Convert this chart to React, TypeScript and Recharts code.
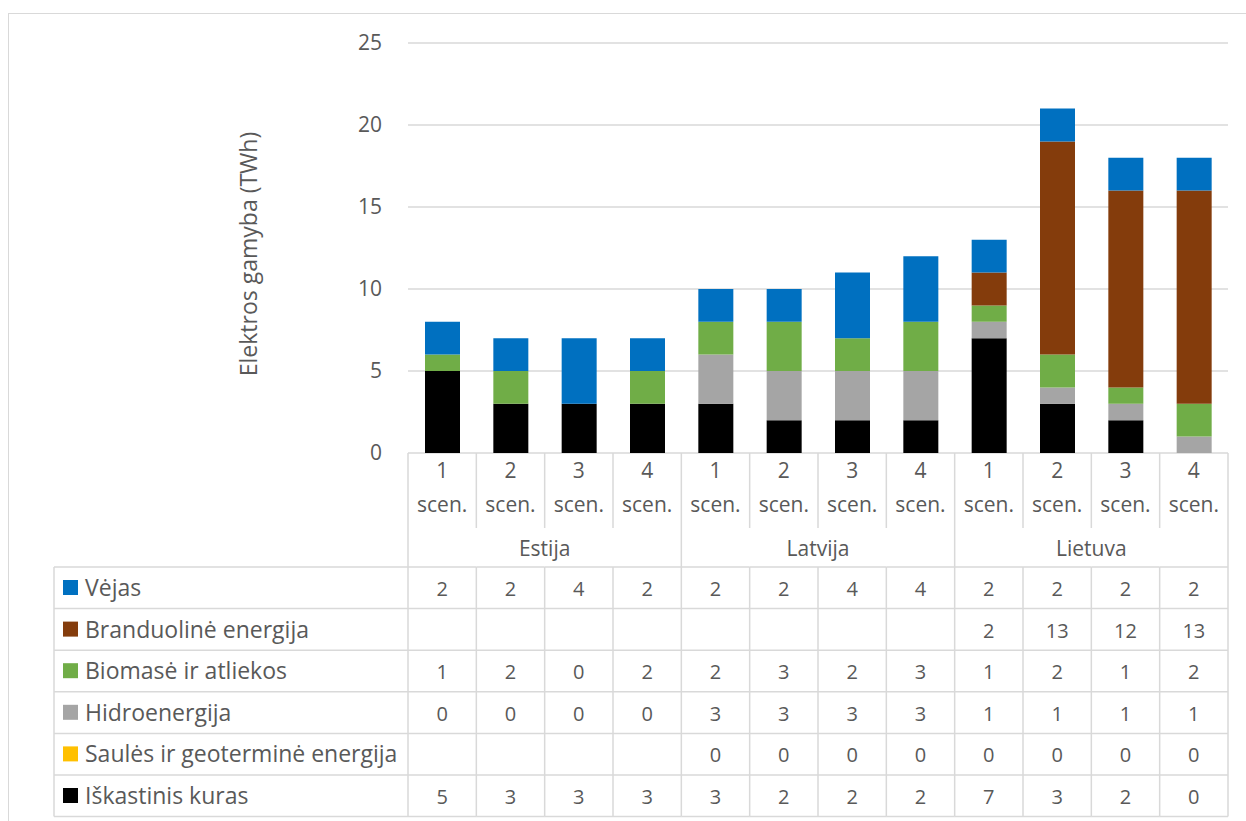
import React from 'react';
import { BarChart, Bar, XAxis, YAxis, CartesianGrid } from 'recharts';

const SCENARIOS = ['1', '2', '3', '4', '1', '2', '3', '4', '1', '2', '3', '4'];
const COUNTRIES = ['Estija', 'Latvija', 'Lietuva'];

// TWh by source, one value per scenario column (null = empty cell)
const FOSSIL = [5, 3, 3, 3, 3, 2, 2, 2, 7, 3, 2, 0];
const SOLAR = [null, null, null, null, 0, 0, 0, 0, 0, 0, 0, 0];
const HYDRO = [0, 0, 0, 0, 3, 3, 3, 3, 1, 1, 1, 1];
const BIOMASS = [1, 2, 0, 2, 2, 3, 2, 3, 1, 2, 1, 2];
const NUCLEAR = [null, null, null, null, null, null, null, null, 2, 13, 12, 13];
const WIND = [2, 2, 4, 2, 2, 2, 4, 4, 2, 2, 2, 2];

const Y_TICKS = [0, 5, 10, 15, 20, 25];

// stacking order, bottom first
const SERIES = [
  { key: 'fossil', name: 'Iškastinis kuras', color: '#000000', values: FOSSIL },
  { key: 'solar', name: 'Saulės ir geoterminė energija', color: '#FFC000', values: SOLAR },
  { key: 'hydro', name: 'Hidroenergija', color: '#A5A5A5', values: HYDRO },
  { key: 'biomass', name: 'Biomasė ir atliekos', color: '#70AD47', values: BIOMASS },
  { key: 'nuclear', name: 'Branduolinė energija', color: '#843C0C', values: NUCLEAR },
  { key: 'wind', name: 'Vėjas', color: '#0070C0', values: WIND },
];

// table rows run top-down: reverse of the stack
const TABLE_ROWS = [...SERIES].reverse();

const data = SCENARIOS.map((s, i) => {
  const row: Record<string, string | number | null> = {
    id: `${COUNTRIES[Math.floor(i / 4)]}-${s}`,
    scen: s,
    country: COUNTRIES[Math.floor(i / 4)],
  };
  SERIES.forEach((ser) => {
    row[ser.key] = ser.values[i];
  });
  return row;
});

const WIDTH = 1236;
const HEIGHT = 806;
const MARGIN = { top: 29, right: 17, left: 339, bottom: 0 };
const Y_AXIS_W = 60;
const PLOT_LEFT = MARGIN.left + Y_AXIS_W;
const PLOT_W = WIDTH - MARGIN.right - PLOT_LEFT;
const CELL_W = PLOT_W / SCENARIOS.length;
const X_AXIS_H = 367;

const FONT = '"Open Sans", sans-serif';
const TEXT = '#595959';
const LINE = '#d9d9d9';

const HEAD_H = 75; // scenario label block
const TABLE_TOP = 114;
const ROW_H = 41.6;
const TABLE_LEFT = 45;

function TableColumn(props: any) {
  const { x, y, index } = props;
  const left = x - CELL_W / 2;
  const right = x + CELL_W / 2;
  const groupStart = index % 4 === 0;
  const tableBottom = y + TABLE_TOP + ROW_H * TABLE_ROWS.length;
  const row = data[index];

  const parts: React.ReactNode[] = [];

  // vertical borders
  if (groupStart) {
    parts.push(<line key="vl" x1={left} x2={left} y1={y} y2={tableBottom} stroke={LINE} strokeWidth={1.5} />);
  } else {
    parts.push(<line key="vl1" x1={left} x2={left} y1={y} y2={y + HEAD_H} stroke={LINE} strokeWidth={1.5} />);
    parts.push(<line key="vl2" x1={left} x2={left} y1={y + TABLE_TOP} y2={tableBottom} stroke={LINE} strokeWidth={1.5} />);
  }
  if (index === SCENARIOS.length - 1) {
    parts.push(<line key="vr" x1={right} x2={right} y1={y} y2={tableBottom} stroke={LINE} strokeWidth={1.5} />);
  }

  // horizontal borders
  for (let k = 0; k <= TABLE_ROWS.length; k++) {
    const ly = y + TABLE_TOP + k * ROW_H;
    parts.push(<line key={`h${k}`} x1={left} x2={right} y1={ly} y2={ly} stroke={LINE} strokeWidth={1.5} />);
  }

  // scenario label
  parts.push(
    <text key="n" x={x} y={y + 25} textAnchor="middle" fontSize={21} fill={TEXT} fontFamily={FONT}>
      {row.scen}
    </text>
  );
  parts.push(
    <text key="s" x={x} y={y + 59} textAnchor="middle" fontSize={21} fill={TEXT} fontFamily={FONT}>
      scen.
    </text>
  );

  // country label centered over its four columns
  if (index % 4 === 1) {
    parts.push(
      <text key="c" x={right} y={y + 103} textAnchor="middle" fontSize={21} fill={TEXT} fontFamily={FONT}>
        {row.country}
      </text>
    );
  }

  // values
  TABLE_ROWS.forEach((ser, k) => {
    const v = ser.values[index];
    if (v === null) return;
    parts.push(
      <text key={`v${k}`} x={x} y={y + TABLE_TOP + k * ROW_H + 29} textAnchor="middle" fontSize={20} fill={TEXT} fontFamily={FONT}>
        {v}
      </text>
    );
  });

  // legend column, drawn once
  if (index === 0) {
    parts.push(<line key="ll" x1={TABLE_LEFT} x2={TABLE_LEFT} y1={y + TABLE_TOP} y2={tableBottom} stroke={LINE} strokeWidth={1.5} />);
    TABLE_ROWS.forEach((ser, k) => {
      const top = y + TABLE_TOP + k * ROW_H;
      parts.push(<line key={`lh${k}`} x1={TABLE_LEFT} x2={left} y1={top} y2={top} stroke={LINE} strokeWidth={1.5} />);
      parts.push(<rect key={`ls${k}`} x={TABLE_LEFT + 9} y={top + 13} width={15} height={15} fill={ser.color} />);
      parts.push(
        <text key={`lt${k}`} x={TABLE_LEFT + 31} y={top + 29} fontSize={23} fill={TEXT} fontFamily={FONT}>
          {ser.name}
        </text>
      );
    });
    parts.push(<line key="lb" x1={TABLE_LEFT} x2={left} y1={tableBottom} y2={tableBottom} stroke={LINE} strokeWidth={1.5} />);
  }

  return <g>{parts}</g>;
}

function AxisTitle(props: any) {
  const { viewBox } = props;
  const cx = viewBox.x - 100;
  const cy = viewBox.y + viewBox.height / 2 + 6;
  return (
    <text x={cx} y={cy} transform={`rotate(-90 ${cx} ${cy})`} textAnchor="middle" dominantBaseline="central" fontSize={23} fill={TEXT} fontFamily={FONT}>
      Elektros gamyba (TWh)
    </text>
  );
}

export default function App() {
  return (
    <div style={{ position: 'fixed', left: 0, top: 0, width: 1246, height: 821, overflow: 'hidden', background: '#fff' }}>
      <div
        style={{
          position: 'absolute',
          left: 8,
          top: 13,
          width: 1240,
          height: 812,
          boxSizing: 'border-box',
          border: `1px solid ${LINE}`,
        }}
      >
        <BarChart width={WIDTH} height={HEIGHT} data={data} margin={MARGIN} barSize={35}>
          <CartesianGrid vertical={false} stroke={LINE} strokeWidth={1.5} />
          <XAxis
            dataKey="id"
            interval={0}
            axisLine={false}
            tickLine={false}
            tickSize={0}
            tickMargin={0}
            height={X_AXIS_H}
            tick={TableColumn}
          />
          <YAxis
            width={Y_AXIS_W}
            domain={[0, 25]}
            ticks={Y_TICKS}
            axisLine={false}
            tickLine={false}
            tickSize={0}
            tickMargin={26}
            tick={{ fontSize: 21, fill: TEXT, fontFamily: FONT }}
            label={<AxisTitle />}
          />
          {SERIES.map((ser) => (
            <Bar key={ser.key} dataKey={ser.key} name={ser.name} stackId="a" fill={ser.color} isAnimationActive={false} />
          ))}
        </BarChart>
      </div>
    </div>
  );
}
